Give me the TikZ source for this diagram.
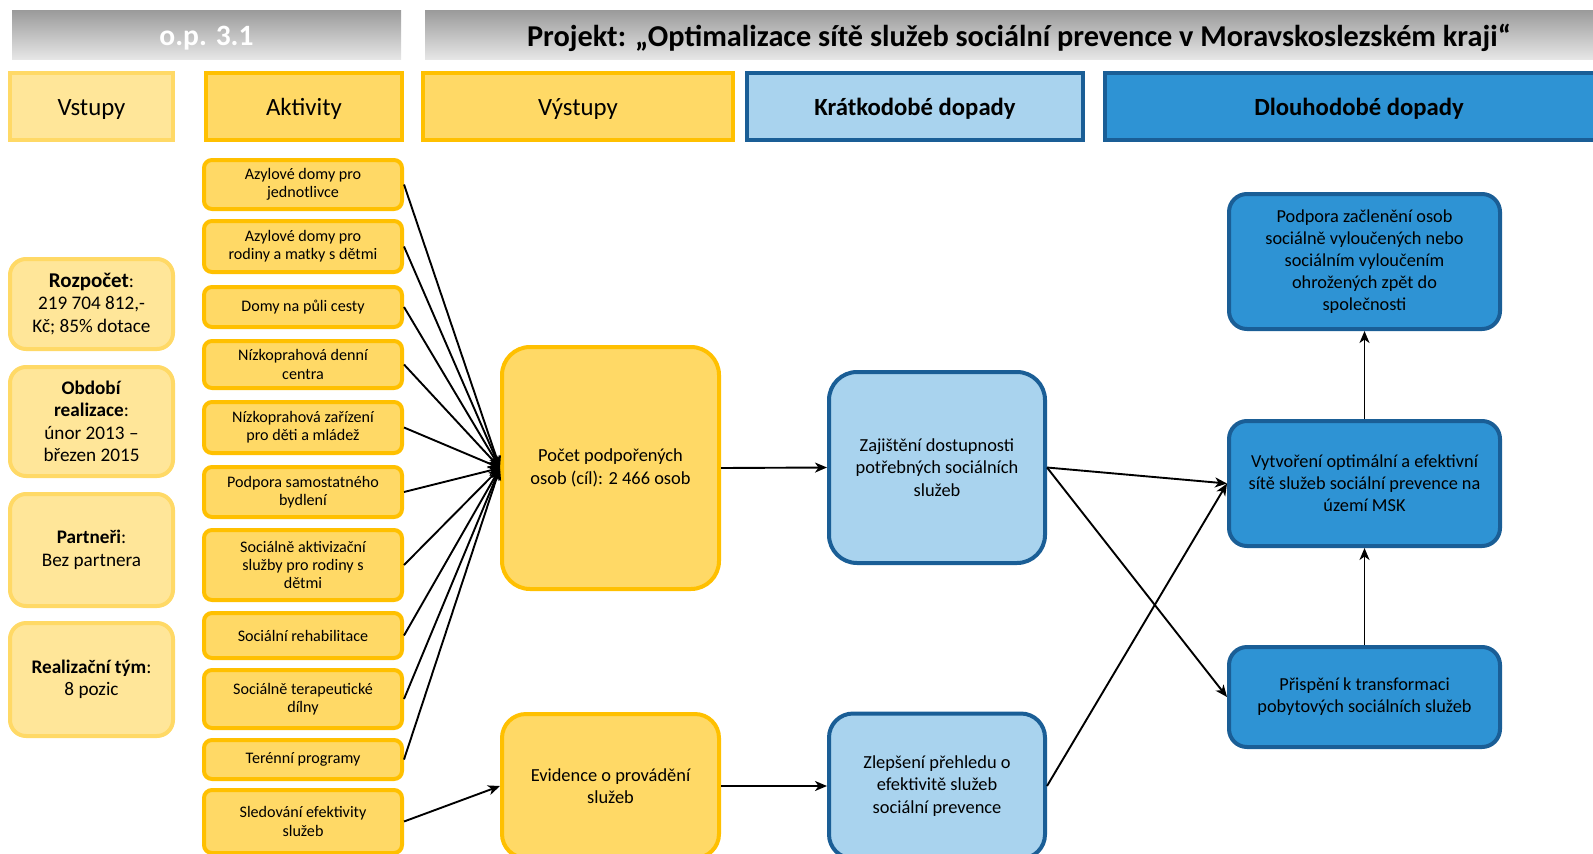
\documentclass[tikz,border=0pt]{standalone}
\usepackage{fontspec}
\setmainfont{Carlito}
\usetikzlibrary{arrows.meta}
\definecolor{yfill}{HTML}{FFD966}
\definecolor{yline}{HTML}{FFC000}
\definecolor{lyfill}{HTML}{FFE699}
\definecolor{lyline}{HTML}{FFD966}
\definecolor{lbfill}{HTML}{A9D3EE}
\definecolor{bline}{HTML}{1A5E96}
\definecolor{dbfill}{HTML}{2E93D4}
\definecolor{gtop}{HTML}{9A9A9A}
\definecolor{gbot}{HTML}{E6E6E6}
\tikzset{
  box/.style={draw, line width=4pt, align=center, inner sep=0pt},
  bar/.style={top color=gtop, bottom color=gbot, draw=none, inner sep=0pt},
  hdr/.style={box, font=\fontsize{24.8}{29}\selectfont, text height=20pt, text depth=3pt},
  act/.style={box, fill=yfill, draw=yline, rounded corners=8pt, minimum width=198pt, font=\fontsize{16.1}{18.3}\selectfont},
  inp/.style={box, fill=lyfill, draw=lyline, rounded corners=16pt, minimum width=163pt, font=\fontsize{19.2}{22.5}\selectfont},
  outp/.style={box, fill=yfill, draw=yline, rounded corners=28pt, minimum width=217pt, font=\fontsize{18.4}{22.4}\selectfont},
  shortb/.style={box, fill=lbfill, draw=bline, rounded corners=28pt, minimum width=216pt, font=\fontsize{18.4}{22.4}\selectfont},
  longb/.style={box, fill=dbfill, draw=bline, rounded corners=18pt, minimum width=271pt, font=\fontsize{18.3}{21.9}\selectfont},
  arr/.style={-{Stealth[length=12pt,width=10pt,inset=3.5pt]}, line width=1.9pt}
}
\begin{document}
\begin{tikzpicture}[x=1pt,y=-1pt]
\useasboundingbox (0,0) rectangle (1593,854);
\clip (0,0) rectangle (1593,854);
% header bars
\node[bar, minimum width=389pt, minimum height=49pt] (opbar) at (206.5,34.5) {};
\node[text=white, font=\fontsize{29.5}{32}\selectfont\bfseries] (optext) at (206.5,38) {o.p. 3.1};
\node[bar, minimum width=1168pt, minimum height=49pt] (projbar) at (1009,34.5) {};
\node[font=\fontsize{30.3}{33}\selectfont\bfseries] (projtext) at (1019,38) {Projekt: „Optimalizace sítě služeb sociální prevence v Moravskoslezském kraji“};
% column headers
\node[hdr, fill=lyfill, draw=lyline, minimum width=163pt, minimum height=67pt] (vstH) at (91.5,106.5) {Vstupy};
\node[hdr, fill=yfill, draw=yline, minimum width=196pt, minimum height=67pt] (aktH) at (304,106.5) {Aktivity};
\node[hdr, fill=yfill, draw=yline, minimum width=310pt, minimum height=67pt] (vysH) at (578,106.5) {Výstupy};
\node[hdr, fill=lbfill, draw=bline, minimum width=336pt, minimum height=67pt, font=\fontsize{24.7}{29}\selectfont\bfseries] (kraH) at (915,106.5) {Krátkodobé dopady};
\node[hdr, fill=dbfill, draw=bline, minimum width=508pt, minimum height=67pt, font=\fontsize{24.7}{29}\selectfont\bfseries] (dloH) at (1359,106.5) {Dlouhodobé dopady};
% inputs
\node[inp, minimum height=90pt] (roz) at (91.5,304) {{\fontsize{21}{22.5}\selectfont\textbf{Rozpočet}}:\\219 704 812,-\\Kč; 85\% dotace};
\node[inp, minimum height=109pt] (obd) at (91.5,421.5) {\textbf{Období}\\\textbf{realizace}:\\únor 2013 –\\březen 2015};
\node[inp, minimum height=112pt] (par) at (91.5,550) {\textbf{Partneři}:\\Bez partnera};
\node[inp, minimum height=113pt] (rea) at (91.5,679.5) {\textbf{Realizační tým}:\\8 pozic};
% activities
\node[act, minimum height=49pt] (a1) at (303,184.5) {Azylové domy pro\\jednotlivce};
\node[act, minimum height=51pt] (a2) at (303,246.5) {Azylové domy pro\\rodiny a matky s dětmi};
\node[act, minimum height=40pt] (a3) at (303,307) {Domy na půli cesty};
\node[act, minimum height=47pt] (a4) at (303,364.5) {Nízkoprahová denní\\centra};
\node[act, minimum height=51pt] (a5) at (303,427.5) {Nízkoprahová zařízení\\pro děti a mládež};
\node[act, minimum height=50pt] (a6) at (303,492) {Podpora samostatného\\bydlení};
\node[act, minimum height=70pt] (a7) at (303,565) {Sociálně aktivizační\\služby pro rodiny s\\dětmi};
\node[act, minimum height=45pt] (a8) at (303,635.5) {Sociální rehabilitace};
\node[act, minimum height=58pt] (a9) at (303,699) {Sociálně terapeutické\\dílny};
\node[act, minimum height=39pt] (a10) at (303,759.5) {Terénní programy};
\node[act, minimum height=63pt] (a11) at (303,821.5) {Sledování efektivity\\služeb};
% outputs
\node[outp, minimum height=242pt] (pocet) at (610.5,468) {Počet podpořených\\osob (cíl): 2 466 osob};
\node[outp, minimum height=144pt, rounded corners=24pt] (evid) at (610.5,786) {Evidence o provádění\\služeb};
% short-term
\node[shortb, minimum height=191pt] (zaj) at (937,467.5) {Zajištění dostupnosti\\potřebných sociálních\\služeb};
\node[shortb, minimum height=145pt, rounded corners=24pt] (zlep) at (937,786) {Zlepšení přehledu o\\efektivitě služeb\\sociální prevence};
% long-term
\node[longb, minimum height=135pt] (podp) at (1364.5,261.5) {Podpora začlenění osob\\sociálně vyloučených nebo\\sociálním vyloučením\\ohrožených zpět do\\společnosti};
\node[longb, minimum height=125pt] (vytv) at (1364.5,483.5) {Vytvoření optimální a efektivní\\sítě služeb sociální prevence na\\území MSK};
\node[longb, minimum height=100pt] (prisp) at (1364.5,697) {Přispění k transformaci\\pobytových sociálních služeb};
% connectors
\foreach \i in {1,...,10} \draw[arr] (a\i.east) -- (pocet.west);
\draw[arr] (a11.east) -- (evid.west);
\draw[arr] (pocet.east) -- (zaj.west);
\draw[arr] (evid.east) -- (zlep.west);
\draw[arr] (zaj.east) -- (vytv.west);
\draw[arr] (zaj.east) -- (prisp.west);
\draw[arr] (zlep.east) -- (vytv.west);
\draw[arr] (vytv.north) -- (podp.south);
\draw[arr] (prisp.north) -- (vytv.south);
\end{tikzpicture}
\end{document}
